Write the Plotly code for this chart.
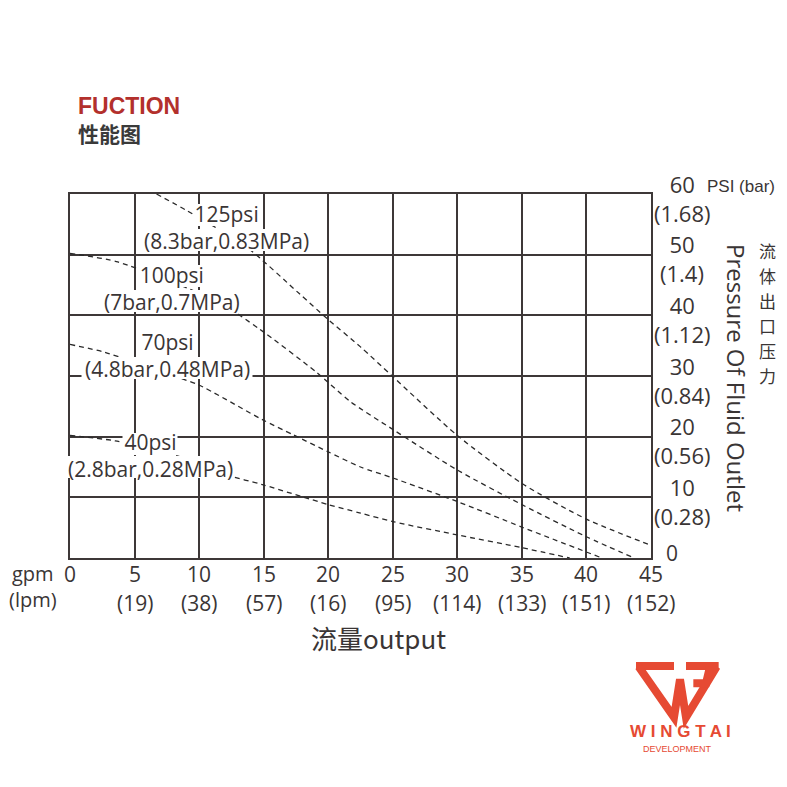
import plotly.graph_objects as go

# ---------------- data ----------------
x_ticks = [0, 5, 10, 15, 20, 25, 30, 35, 40, 45]
x_gpm_labels = ["0", "5", "10", "15", "20", "25", "30", "35", "40", "45"]
x_lpm_labels = ["", "(19)", "(38)", "(57)", "(16)", "(95)", "(114)", "(133)", "(151)", "(152)"]

y_ticks = [60, 50, 40, 30, 20, 10]
y_psi_labels = ["60", "50", "40", "30", "20", "10"]
y_bar_labels = ["(1.68)", "(1.4)", "(1.12)", "(0.84)", "(0.56)", "(0.28)"]

curve_names = ["125psi", "100psi", "70psi", "40psi"]
curve_subs = ["(8.3bar,0.83MPa)", "(7bar,0.7MPa)", "(4.8bar,0.48MPa)", "(2.8bar,0.28MPa)"]

x_125 = [6.7, 9.1, 13.7, 17.8, 20, 22.5, 25, 30, 35, 40, 45]
y_125 = [60, 57.2, 51.2, 43.5, 39.3, 34.8, 29.9, 20.2, 12.3, 6.4, 2.1]

x_100 = [0, 3.7, 11.4, 14.7, 19.1, 21.7, 25, 30, 35, 40, 43.7]
y_100 = [50.2, 48.8, 42.3, 37.7, 30.6, 25.8, 21.2, 14.5, 8.8, 3.5, 0]

x_70 = [0, 2.7, 7.7, 9.9, 14.9, 17.3, 20, 22.5, 25, 30, 35, 41.2]
y_70 = [35.2, 33.9, 30.2, 28.6, 22.8, 20.3, 17.5, 15.0, 13.2, 9.3, 5.1, 0]

x_40 = [0, 3.5, 8.5, 12.1, 14.9, 20, 22.5, 25, 30, 35, 38.7]
y_40 = [20.2, 19.3, 16.7, 13.7, 12.1, 8.8, 7.4, 6.0, 3.8, 1.7, 0]

right_title_cn = "流体出口压力"

# ---------------- layout helpers ----------------
# page has an 8px body margin, so the figure is 779px and positioned at (8,8)
W = H = 779
L, R, T, B = 62, 136, 186, 229
PW = W - L - R
PH = H - T - B


def pxx(x):  # page pixel x -> paper
    return (x - 8 - L) / PW


def pyy(y):  # page pixel y -> paper
    return (H - B - (y - 8)) / PH


INK = "#3a3535"
GRID = "#3d3838"
RED = "#e64a33"
FONT = "Open Sans"
CJK = "Noto Sans CJK SC"

fig = go.Figure()

for xs, ys in [(x_125, y_125), (x_100, y_100), (x_70, y_70), (x_40, y_40)]:
    fig.add_trace(go.Scatter(
        x=xs, y=ys, mode="lines",
        line=dict(color="#2a2a2a", width=1.3, dash="5px,4px", shape="spline", smoothing=0.7),
        hoverinfo="skip", showlegend=False, cliponaxis=True))

ann = []
shapes = []

# curve labels: white boxes behind each text line (hide grid & curves like the reference)
label_pos = [(226, 215, 240), (172, 276, 301), (167, 342, 368), (150, 444, 467)]
box_w = [(66, 172), (68, 142), (52, 171), (55, 168)]
for name, sub, (cx, y1, y2), (w1, w2) in zip(curve_names, curve_subs, label_pos, box_w):
    for (yc, w) in ((y1, w1), (y2, w2)):
        shapes.append(dict(type="rect", xref="paper", yref="paper",
                           x0=pxx(cx - w / 2), x1=pxx(cx + w / 2),
                           y0=pyy(yc + 11), y1=pyy(yc - 11),
                           fillcolor="white", line=dict(width=0), layer="above"))
    ann.append(dict(text=name + "<br>" + sub, xref="paper", yref="paper",
                    x=pxx(cx), y=pyy((y1 + y2) / 2), align="center",
                    xanchor="center", yanchor="middle", showarrow=False,
                    font=dict(family=FONT, size=21, color=INK)))

# bottom axis labels
for xv, g, l in zip(x_ticks, x_gpm_labels, x_lpm_labels):
    ann.append(dict(text=g, xref="x", yref="paper", x=xv, y=pyy(574),
                    xanchor="center", yanchor="middle", showarrow=False,
                    font=dict(family=FONT, size=21, color=INK)))
    if l:
        ann.append(dict(text=l, xref="x", yref="paper", x=xv, y=pyy(603),
                        xanchor="center", yanchor="middle", showarrow=False,
                        font=dict(family=FONT, size=21, color=INK)))
ann.append(dict(text="gpm<br>(lpm)", xref="paper", yref="paper", x=pxx(33), y=pyy(586),
                align="center", xanchor="center", yanchor="middle", showarrow=False,
                font=dict(family=FONT, size=20, color=INK)))
ann.append(dict(text="流量output", xref="paper", yref="paper", x=pxx(378), y=pyy(637),
                xanchor="center", yanchor="middle", showarrow=False,
                font=dict(family=CJK, size=26, color=INK)))

# right axis labels
for yv, p, b in zip(y_ticks, y_psi_labels, y_bar_labels):
    ann.append(dict(text=p + "<br>" + b, xref="paper", yref="y", x=pxx(682), y=yv, yshift=-4,
                    align="center", xanchor="center", yanchor="middle", showarrow=False,
                    font=dict(family=FONT, size=22, color=INK)))
ann.append(dict(text="0", xref="paper", yref="y", x=pxx(664), y=0, yshift=5,
                xanchor="left", yanchor="middle", showarrow=False,
                font=dict(family=FONT, size=21, color=INK)))
ann.append(dict(text="PSI (bar)", xref="paper", yref="y", x=pxx(705), y=60, yshift=8,
                xanchor="left", yanchor="middle", showarrow=False,
                font=dict(family="Liberation Sans Narrow, Liberation Sans", size=17, color=INK)))

ann.append(dict(text="Pressure Of Fluid Outlet", xref="paper", yref="paper",
                x=pxx(737), y=pyy(378), textangle=90,
                xanchor="center", yanchor="middle", showarrow=False,
                font=dict(family=FONT, size=24, color=INK)))
for i, ch in enumerate(right_title_cn):
    ann.append(dict(text=ch, xref="paper", yref="paper",
                    x=pxx(767), y=pyy(250 + 25 * i), xanchor="center", yanchor="middle",
                    showarrow=False, font=dict(family=CJK, size=17, color=INK)))

# title
ann.append(dict(text="<b>FUCTION</b>", xref="paper", yref="paper", x=pxx(76), y=pyy(106),
                xanchor="left", yanchor="middle", showarrow=False,
                font=dict(family="Liberation Sans", size=23, color="#b3302c")))
ann.append(dict(text="<b>性能图</b>", xref="paper", yref="paper", x=pxx(76), y=pyy(133),
                xanchor="left", yanchor="middle", showarrow=False,
                font=dict(family=CJK, size=21, color="#3a3a3a")))

# logo text
ann.append(dict(text="<b>W I N G T A I</b>", xref="paper", yref="paper", x=pxx(680), y=pyy(731),
                xanchor="center", yanchor="middle", showarrow=False,
                font=dict(family="Liberation Sans", size=17, color=RED)))
ann.append(dict(text="DEVELOPMENT", xref="paper", yref="paper", x=pxx(677), y=pyy(749),
                xanchor="center", yanchor="middle", showarrow=False,
                font=dict(family="Liberation Sans", size=9, color=RED)))


# logo strokes (zoomed-crop coords -> page px -> paper)
def zpath(pts):
    s = ""
    for i, (X, Y) in enumerate(pts):
        rx = 600 + X / 3.0
        ry = 640 + Y / 3.0
        s += ("M" if i == 0 else "L") + f"{pxx(rx):.5f},{pyy(ry):.5f} "
    return s


logo_strokes = [
    [(108, 78), (222, 78)],
    [(258, 78), (356, 78)],
    [(116, 80), (222, 232), (240, 118), (258, 232), (350, 80)],
    [(330, 80), (318, 130), (280, 130)],
]
for st in logo_strokes:
    shapes.append(dict(type="path", xref="paper", yref="paper", path=zpath(st),
                       line=dict(color=RED, width=8), layer="above"))

fig.update_layout(
    width=W, height=H,
    margin=dict(l=L, r=R, t=T, b=B),
    paper_bgcolor="white", plot_bgcolor="white",
    showlegend=False,
    annotations=ann,
    shapes=shapes,
    xaxis=dict(range=[0, 45], tick0=0, dtick=5, showgrid=True, gridcolor=GRID, gridwidth=1.6,
               showline=True, mirror=True, linecolor=GRID, linewidth=1.6,
               showticklabels=False, ticks="", zeroline=False, fixedrange=True),
    yaxis=dict(range=[0, 60], tick0=0, dtick=10, showgrid=True, gridcolor=GRID, gridwidth=1.6,
               showline=True, mirror=True, linecolor=GRID, linewidth=1.6,
               showticklabels=False, ticks="", zeroline=False, fixedrange=True),
)

fig.write_html("out.html")
